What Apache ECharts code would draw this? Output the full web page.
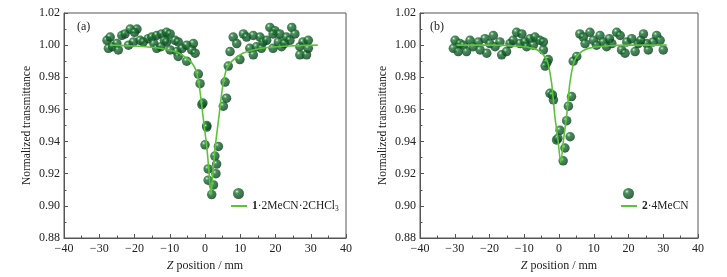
<!DOCTYPE html>
<html><head><meta charset="utf-8">
<script src="https://cdn.jsdelivr.net/npm/echarts@6/dist/echarts.min.js"></script>
<style>html,body{margin:0;padding:0;background:#fff}#c{width:727px;height:277px}</style>
</head><body><div id="c"></div>
<script>
// x ticks and y ticks
const xTicks = [-40,-30,-20,-10,0,10,20,30,40];
const yTicks = [0.88,0.90,0.92,0.94,0.96,0.98,1.00,1.02];
const nameA = '1·2MeCN·2CHCl3';
const nameB = '2·4MeCN';
// Panel (a) experimental points [z, T]
const pointsA = [[-27.8,1.003],[-26.9,1.005],[-27.4,0.998],[-26.2,0.999],[-25,1.001],[-24.6,0.997],[-23.6,1.006],[-22.7,1.007],[-21.2,1.010],[-19.3,1.010],[-20.0,1.008],[-21.7,1.000],[-20.3,1.002],[-18.4,1.003],[-17.5,1.002],[-16.1,1.004],[-15.1,1.005],[-14.5,1.001],[-13.7,1.006],[-12.3,1.007],[-11.5,1.003],[-10.9,1.008],[-9.9,1.007],[-10.9,1.002],[-8.5,1.003],[-7.6,1.002],[-13.7,0.998],[-12.5,0.999],[-9.9,0.997],[-8.0,0.996],[-7.6,0.993],[-6.5,0.998],[-5.2,1.000],[-3.3,1.001],[-3.8,0.997],[-2.8,0.995],[-5.2,0.990],[-1.9,0.982],[-1.4,0.976],[-0.9,0.963],[-0.6,0.964],[0.5,0.950],[0.5,0.949],[0.0,0.938],[3.8,0.937],[2.8,0.931],[3.3,0.926],[0.9,0.923],[3.1,0.920],[0.9,0.916],[2.4,0.913],[1.9,0.907],[5.2,0.962],[6.1,0.967],[5.7,0.977],[6.6,0.987],[9.9,0.991],[7.1,0.996],[8.0,1.005],[9.0,1.001],[10.9,1.007],[11.8,1.005],[13.7,1.006],[12.7,0.998],[13.7,0.994],[14.6,0.999],[15.6,1.005],[16.5,1.002],[17.5,1.003],[18.4,1.011],[19.8,1.009],[19.3,1.007],[20.8,1.002],[21.2,1.007],[19.3,0.998],[21.7,0.999],[23.1,1.005],[24.1,1.003],[24.6,1.011],[25.5,1.007],[26.9,0.999],[27.8,1.002],[29.3,1.003],[26.9,0.994],[28.8,0.994],[29.3,0.998],[22.5,1.001],[16.0,0.998]];
// Panel (a) fitted curve
const curveA = [[-27,1.000],[-20.3,0.9995],[-14.3,0.9985],[-10.3,0.997],[-7.3,0.995],[-5.3,0.992],[-3.8,0.989],[-2.7,0.985],[-1.9,0.978],[-1.4,0.971],[-0.8,0.960],[0.1,0.944],[0.5,0.937],[1.1,0.922],[1.7,0.907],[2.3,0.922],[2.9,0.937],[3.3,0.944],[4.2,0.960],[4.8,0.971],[5.3,0.978],[6.1,0.985],[7.2,0.989],[8.7,0.992],[10.7,0.995],[13.7,0.997],[17.7,0.9985],[23.7,0.9995],[32,1.000]];
// Panel (b) experimental points
const pointsB = [[-29.9,1.003],[-30.4,0.998],[-29,0.996],[-28.5,1.001],[-27.5,1.000],[-26.6,0.996],[-25.6,1.003],[-24.7,0.999],[-23.2,1.002],[-22.7,0.997],[-21.3,1.004],[-20.8,0.995],[-19.9,1.001],[-18.9,1.006],[-18.4,0.999],[-17.0,1.002],[-16.5,0.994],[-15.1,0.996],[-14.1,1.001],[-13.2,1.003],[-12.2,1.008],[-10.7,1.007],[-11.2,1.001],[-9.8,1.002],[-9.3,0.999],[-8.3,1.004],[-7.4,1.000],[-6.9,1.005],[-5.5,1.003],[-4.5,1.002],[-4.5,0.997],[-3.1,0.991],[-3.5,0.989],[-4.0,0.987],[-2.6,0.970],[-1.6,0.966],[-1.9,0.969],[-0.7,0.941],[-0.3,0.942],[0.3,0.947],[1.2,0.928],[1.7,0.936],[3.2,0.943],[2.2,0.953],[2.7,0.962],[3.6,0.968],[4.1,0.990],[5.1,0.993],[6.0,1.007],[7.0,1.005],[7.5,1.001],[8.9,1.008],[9.9,1.003],[10.8,1.000],[11.8,1.006],[12.7,1.002],[13.7,0.999],[15.2,1.001],[16.6,1.008],[17.6,1.006],[18.0,0.997],[19.0,0.995],[19.5,1.002],[20.9,1.004],[21.9,0.996],[22.8,1.001],[24.3,1.007],[25.2,1.001],[25.7,0.997],[27.1,1.002],[28.1,1.006],[29.1,1.003],[30.0,0.997],[23.5,1.003],[14.5,1.004]];
// Panel (b) fitted curve
const curveB = [[-29.5,1.000],[-19.5,1.000],[-11.5,0.9993],[-7.5,0.998],[-5.5,0.996],[-4.0,0.9925],[-3.1,0.988],[-2.1,0.976],[-1.2,0.956],[-0.3,0.941],[0.5,0.927],[1.3,0.941],[2.2,0.956],[3.1,0.976],[4.1,0.988],[5.0,0.9925],[6.5,0.996],[8.5,0.998],[12.5,0.9993],[20.5,1.000],[31,1.000]];

const serif = '"Liberation Serif","DejaVu Serif",serif';
const axisColor = '#555';
const sphere = {type:'radial', x:0.36, y:0.32, r:0.7, colorStops:[
  {offset:0, color:'#f4fff4'},{offset:0.12, color:'#6aae75'},{offset:0.3, color:'#1a7031'},{offset:0.75, color:'#0e4f24'},{offset:1, color:'#063612'}]};
const lineColor = '#5cc33c';

function xAx(i){
  return {type:'value', gridIndex:i, min:xTicks[0], max:xTicks[xTicks.length-1], interval:10,
    name:'{i|Z} position / mm', nameLocation:'middle', nameGap:22,
    nameTextStyle:{fontFamily:serif, fontSize:12, color:'#222', rich:{i:{fontStyle:'italic', fontFamily:serif, fontSize:12, color:'#222'}}},
    axisLine:{onZero:false, lineStyle:{color:axisColor, width:1}},
    axisTick:{inside:true, length:4, lineStyle:{color:axisColor}},
    minorTick:{show:true, splitNumber:2, length:2.5, lineStyle:{color:axisColor}},
    axisLabel:{fontFamily:serif, fontSize:12, color:'#222', margin:5, formatter:v=>String(v).replace('-','\u2212')},
    splitLine:{show:false}};
}
function yAx(i){
  return {type:'value', gridIndex:i, min:yTicks[0], max:yTicks[yTicks.length-1], interval:0.02,
    name:'Normalized transmittance', nameLocation:'middle', nameGap:31,
    nameTextStyle:{fontFamily:serif, fontSize:11.5, color:'#222'},
    axisLine:{onZero:false, lineStyle:{color:axisColor, width:1}},
    axisTick:{inside:true, length:4, lineStyle:{color:axisColor}},
    minorTick:{show:true, splitNumber:2, length:2.5, lineStyle:{color:axisColor}},
    axisLabel:{fontFamily:serif, fontSize:12, color:'#222', margin:4, formatter:v=>v.toFixed(2)},
    splitLine:{show:false}};
}
const legRich = {b:{fontWeight:'bold', fontFamily:serif, fontSize:11.5, color:'#222'}, n:{fontFamily:serif, fontSize:11.5, color:'#222'}, s:{fontFamily:serif, fontSize:7.5, color:'#222', verticalAlign:'bottom', padding:[6,0,0,0]}};

const chart = echarts.init(document.getElementById('c'), null, {renderer:'canvas'});
chart.setOption({
  animation:false,
  grid:[
    {left:64, top:13, width:282, height:227, show:true, borderColor:axisColor, borderWidth:1, backgroundColor:'transparent'},
    {left:420, top:13, width:278, height:227, show:true, borderColor:axisColor, borderWidth:1, backgroundColor:'transparent'}
  ],
  xAxis:[xAx(0), xAx(1)],
  yAxis:[yAx(0), yAx(1)],
  legend:[
    {data:['ptsA'], left:228, top:183, itemWidth:11, itemHeight:11, formatter:()=>'', selectedMode:false},
    {data:[nameA], left:225, top:195, itemWidth:16, itemHeight:2, itemGap:4, itemTextGap:6, selectedMode:false,
     formatter:()=>'{b|1}{n|·2MeCN·2CHCl}{s|3}', textStyle:{rich:legRich}},
    {data:['ptsB'], left:618, top:183, itemWidth:11, itemHeight:11, formatter:()=>'', selectedMode:false},
    {data:[nameB], left:615, top:195, itemWidth:16, itemHeight:2, itemGap:4, itemTextGap:4, selectedMode:false,
     formatter:()=>'{b|2}{n|·4MeCN}', textStyle:{rich:legRich}}
  ],
  graphic:[
    {type:'text', left:77, top:21, style:{text:'(a)', font:'12px '+serif, fill:'#222'}},
    {type:'text', left:430, top:21, style:{text:'(b)', font:'12px '+serif, fill:'#222'}}
  ],
  series:[
    {name:'ptsA', type:'scatter', xAxisIndex:0, yAxisIndex:0, data:pointsA, symbolSize:9.5, itemStyle:{color:sphere}, z:2},
    {name:nameA, type:'line', xAxisIndex:0, yAxisIndex:0, data:curveA, symbol:'none', smooth:0.25, lineStyle:{color:lineColor, width:1.6}, itemStyle:{color:lineColor}, z:3},
    {name:'ptsB', type:'scatter', xAxisIndex:1, yAxisIndex:1, data:pointsB, symbolSize:9.5, itemStyle:{color:sphere}, z:2},
    {name:nameB, type:'line', xAxisIndex:1, yAxisIndex:1, data:curveB, symbol:'none', smooth:0.25, lineStyle:{color:lineColor, width:1.6}, itemStyle:{color:lineColor}, z:3}
  ]
});
</script></body></html>
